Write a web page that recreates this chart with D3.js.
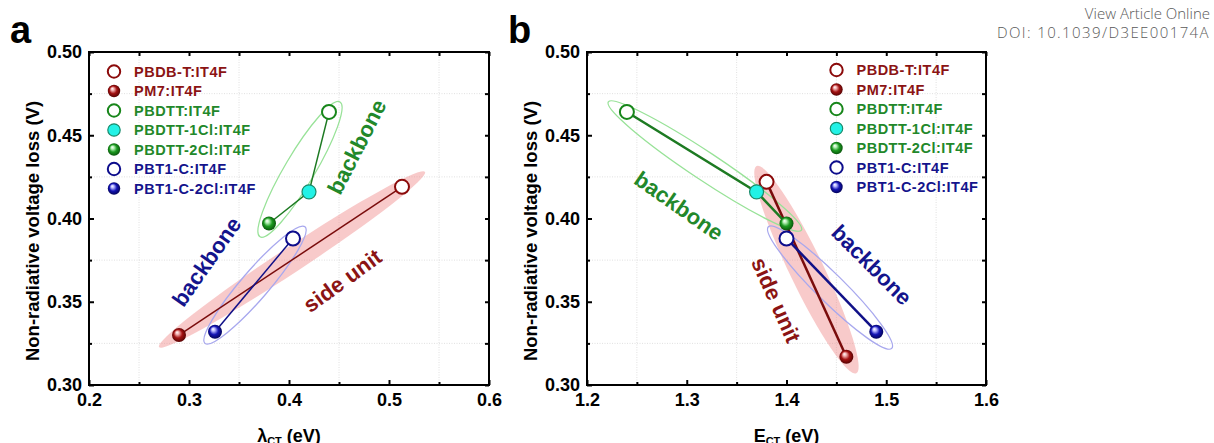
<!DOCTYPE html>
<html>
<head>
<meta charset="utf-8">
<script src="https://cdn.jsdelivr.net/npm/d3@7"></script>
<style>
  body { margin: 0; background: #fff; }
  svg { display: block; }
</style>
</head>
<body>
<div id="vis"></div>
<script>
// ---- data ----
var devices  = ["PBDB-T:IT4F", "PM7:IT4F", "PBDTT:IT4F", "PBDTT-1Cl:IT4F", "PBDTT-2Cl:IT4F", "PBT1-C:IT4F", "PBT1-C-2Cl:IT4F"];
var lambdaCT = [0.513, 0.290, 0.440, 0.420, 0.380, 0.404, 0.326];   // panel a, eV
var vlossA   = [0.419, 0.330, 0.464, 0.416, 0.397, 0.388, 0.332];   // panel a, V
var eCT      = [1.380, 1.460, 1.240, 1.370, 1.400, 1.400, 1.490];   // panel b, eV
var vlossB   = [0.422, 0.317, 0.464, 0.416, 0.397, 0.388, 0.332];   // panel b, V
var families = ["red", "red", "green", "cyan", "green", "blue", "blue"];
var filled   = [false, true, false, true, true, false, true];
var links    = [[1, 0], [4, 3, 2], [6, 5]];   // device indices joined by lines
var xTicksA  = [0.2, 0.3, 0.4, 0.5, 0.6];
var xTicksB  = [1.2, 1.3, 1.4, 1.5, 1.6];
var yTicks   = [0.30, 0.35, 0.40, 0.45, 0.50];

// ---- styling ----
var col = { red: "#8b0a0a", green: "#17861a", blue: "#0d0d8c", cyan: "#22f2e6" };
var textCol = { red: "#8b1414", green: "#22882a", blue: "#14148c", cyan: "#22882a" };
var lineCol = ["#7a0c0c", "#1d7a22", "#101088"];
var font = "'Liberation Sans', Arial, sans-serif";

var svg = d3.select("#vis").append("svg")
  .attr("width", 1214)
  .attr("height", 443);

// sphere gradients
var defs = svg.append("defs");
[["red", "#f2b0b0", "#a31212", "#4a0000"],
 ["green", "#b8f0b8", "#1c9a20", "#064a08"],
 ["blue", "#b8b8ff", "#1414b4", "#00004a"]].forEach(function (c) {
  var gr = defs.append("radialGradient").attr("id", "sph-" + c[0])
    .attr("cx", "50%").attr("cy", "50%").attr("r", "55%")
    .attr("fx", "35%").attr("fy", "30%");
  gr.append("stop").attr("offset", "0%").attr("stop-color", "#ffffff");
  gr.append("stop").attr("offset", "22%").attr("stop-color", c[1]);
  gr.append("stop").attr("offset", "55%").attr("stop-color", c[2]);
  gr.append("stop").attr("offset", "100%").attr("stop-color", c[3]);
});

function markerFill(i) {
  if (!filled[i]) return "#ffffff";
  if (families[i] == "cyan") return col.cyan;
  return "url(#sph-" + families[i] + ")";
}
function markerStroke(i) {
  if (families[i] == "cyan") return "#1a8a6a";
  if (!filled[i]) return col[families[i]];
  return "none";
}

function panel(o) {
  var x = d3.scaleLinear().domain(o.xdom).range([o.left, o.right]);
  var y = d3.scaleLinear().domain([0.30, 0.50]).range([o.bottom, o.top]);
  var g = svg.append("g");

  // light grid at the half steps
  var xMinor = d3.range(0, 4).map(function (k) { return o.xdom[0] + 0.05 + k * 0.1; });
  var yMinor = [0.325, 0.375, 0.425, 0.475];
  g.selectAll(".gx").data(xMinor).enter().append("line")
    .attr("x1", d => x(d)).attr("x2", d => x(d))
    .attr("y1", o.top).attr("y2", o.bottom)
    .attr("stroke", "#d8d8d8").attr("stroke-width", 0.8).attr("stroke-dasharray", "1,1.5");
  g.selectAll(".gy").data(yMinor).enter().append("line")
    .attr("y1", d => y(d)).attr("y2", d => y(d))
    .attr("x1", o.left).attr("x2", o.right)
    .attr("stroke", "#d8d8d8").attr("stroke-width", 0.8).attr("stroke-dasharray", "1,1.5");

  // highlight ellipses, given by two end points in data units
  o.ellipses.forEach(function (e) {
    var x1 = x(e.p1[0]), y1 = y(e.p1[1]), x2 = x(e.p2[0]), y2 = y(e.p2[1]);
    var cx = (x1 + x2) / 2, cy = (y1 + y2) / 2;
    var rx = Math.hypot(x2 - x1, y2 - y1) / 2;
    var ang = Math.atan2(y2 - y1, x2 - x1) * 180 / Math.PI;
    g.append("ellipse")
      .attr("cx", cx).attr("cy", cy).attr("rx", rx).attr("ry", e.hw)
      .attr("transform", "rotate(" + ang + "," + cx + "," + cy + ")")
      .attr("fill", e.fill || "none")
      .attr("fill-opacity", e.fill ? 0.45 : null)
      .attr("stroke", e.stroke || "none")
      .attr("stroke-width", 1.3);
  });

  // rotated annotations
  o.notes.forEach(function (n) {
    g.append("text")
      .attr("transform", "translate(" + x(n.at[0]) + "," + y(n.at[1]) + ") rotate(" + n.angle + ")")
      .attr("text-anchor", "middle").attr("dominant-baseline", "central")
      .attr("font-family", font).attr("font-weight", "bold").attr("font-size", 22)
      .attr("fill", n.color).text(n.text);
  });

  // connecting lines
  links.forEach(function (l, k) {
    g.append("path")
      .datum(l)
      .attr("d", d3.line().x(i => x(o.xs[i])).y(i => y(o.ys[i])))
      .attr("fill", "none").attr("stroke", lineCol[k]).attr("stroke-width", o.lw);
  });

  // markers
  g.selectAll(".pt").data(d3.range(devices.length)).enter().append("circle")
    .attr("cx", i => x(o.xs[i])).attr("cy", i => y(o.ys[i])).attr("r", 7)
    .attr("fill", markerFill).attr("stroke", markerStroke)
    .attr("stroke-width", i => filled[i] ? 1.2 : 2);

  // legend
  var lg = g.selectAll(".lg").data(devices).enter().append("g")
    .attr("transform", (d, i) => "translate(" + o.legX + "," + (o.legY + i * 19.5) + ")");
  lg.append("circle").attr("r", 6.2)
    .attr("fill", (d, i) => markerFill(i)).attr("stroke", (d, i) => markerStroke(i))
    .attr("stroke-width", (d, i) => filled[i] ? 1.2 : 2);
  lg.append("text").attr("x", 20).attr("dy", "0.36em")
    .attr("font-family", font).attr("font-weight", "bold").attr("font-size", 14.5)
    .attr("letter-spacing", 0.5)
    .attr("fill", (d, i) => textCol[families[i]]).text(d => d);

  // frame and ticks (all pointing in)
  g.append("rect").attr("x", o.left).attr("y", o.top)
    .attr("width", o.right - o.left).attr("height", o.bottom - o.top)
    .attr("fill", "none").attr("stroke", "#000").attr("stroke-width", 2);

  function styleAxis(a) {
    a.select(".domain").remove();
    a.selectAll("line").attr("stroke", "#000").attr("stroke-width", 2);
    a.selectAll("text").attr("font-family", font).attr("font-weight", "bold")
      .attr("font-size", 18).attr("fill", "#000");
  }
  var b = g.append("g").attr("transform", "translate(0," + o.bottom + ")")
    .call(d3.axisBottom(x).tickValues(o.xticks).tickFormat(d3.format(".1f")).tickSize(-5).tickSizeOuter(0).tickPadding(8));
  styleAxis(b);
  var bm = g.append("g").attr("transform", "translate(0," + o.bottom + ")")
    .call(d3.axisBottom(x).tickValues(xMinor).tickFormat("").tickSize(-3).tickSizeOuter(0));
  styleAxis(bm);
  var t = g.append("g").attr("transform", "translate(0," + o.top + ")")
    .call(d3.axisTop(x).tickValues(o.xticks.concat(xMinor)).tickFormat("").tickSize(-4).tickSizeOuter(0));
  styleAxis(t);
  var l = g.append("g").attr("transform", "translate(" + o.left + ",0)")
    .call(d3.axisLeft(y).tickValues(yTicks).tickFormat(d3.format(".2f")).tickSize(-5).tickSizeOuter(0).tickPadding(7));
  styleAxis(l);
  var lm = g.append("g").attr("transform", "translate(" + o.left + ",0)")
    .call(d3.axisLeft(y).tickValues(yMinor).tickFormat("").tickSize(-3).tickSizeOuter(0));
  styleAxis(lm);
  var r = g.append("g").attr("transform", "translate(" + o.right + ",0)")
    .call(d3.axisRight(y).tickValues(yTicks.concat(yMinor)).tickFormat("").tickSize(-4).tickSizeOuter(0));
  styleAxis(r);

  // axis titles
  g.append("text")
    .attr("transform", "translate(" + (o.left - 57) + ",231) rotate(-90)")
    .attr("text-anchor", "middle").attr("dominant-baseline", "central")
    .attr("font-family", font).attr("font-weight", "bold").attr("font-size", 18.5)
    .text("Non-radiative voltage loss (V)");
  var xt = g.append("text")
    .attr("x", (o.left + o.right) / 2).attr("y", 442)
    .attr("text-anchor", "middle")
    .attr("font-family", font).attr("font-weight", "bold").attr("font-size", 18);
  xt.append("tspan").text(o.xsym);
  xt.append("tspan").attr("font-size", 11).attr("dy", 3).text("CT");
  xt.append("tspan").attr("dy", -3).text(" (eV)");

  // panel letter
  g.append("text").attr("x", o.left - 79).attr("y", 43)
    .attr("font-family", font).attr("font-weight", "bold").attr("font-size", 38)
    .text(o.letter);
}

panel({
  letter: "a", xsym: "\u03bb", xdom: [0.2, 0.6], xticks: xTicksA,
  left: 89, right: 489, top: 52, bottom: 385,
  xs: lambdaCT, ys: vlossA, lw: 1.5,
  legX: 114, legY: 71.5,
  ellipses: [
    { p1: [0.270, 0.3228], p2: [0.536, 0.428], hw: 12.5, fill: "#f08a8a" },
    { p1: [0.371, 0.389], p2: [0.451, 0.470], hw: 15, stroke: "#98e298" },
    { p1: [0.316, 0.325], p2: [0.416, 0.395], hw: 14, stroke: "#a8a8ee" }
  ],
  notes: [
    { text: "backbone", at: [0.468, 0.443], angle: -63, color: "#22882a" },
    { text: "backbone", at: [0.3177, 0.374], angle: -55, color: "#14148c" },
    { text: "side unit", at: [0.4535, 0.3626], angle: -36, color: "#8b1414" }
  ]
});

panel({
  letter: "b", xsym: "E", xdom: [1.2, 1.6], xticks: xTicksB,
  left: 587, right: 986, top: 52, bottom: 385,
  xs: eCT, ys: vlossB, lw: 2.5,
  legX: 836.5, legY: 70,
  ellipses: [
    { p1: [1.370, 0.4315], p2: [1.470, 0.307], hw: 17, fill: "#f08a8a" },
    { p1: [1.2214, 0.470], p2: [1.415, 0.393], hw: 14, stroke: "#98e298" },
    { p1: [1.3818, 0.395], p2: [1.5055, 0.322], hw: 14, stroke: "#a8a8ee" }
  ],
  notes: [
    { text: "backbone", at: [1.292, 0.4075], angle: 35, color: "#22882a" },
    { text: "side unit", at: [1.3895, 0.351], angle: 66, color: "#8b1414" },
    { text: "backbone", at: [1.4854, 0.372], angle: 45, color: "#14148c" }
  ]
});

// journal header, top right
svg.append("text").attr("x", 1210).attr("y", 19).attr("text-anchor", "end")
  .attr("font-family", "'Open Sans', Lato, sans-serif").attr("font-weight", 300)
  .attr("font-size", 15).attr("fill", "#5a5a5a").text("View Article Online");
svg.append("text").attr("x", 1210).attr("y", 38).attr("text-anchor", "end")
  .attr("font-family", "'Open Sans', Lato, sans-serif").attr("font-weight", 300)
  .attr("font-size", 15).attr("letter-spacing", 1.4).attr("fill", "#5a5a5a").text("DOI: 10.1039/D3EE00174A");
</script>
</body>
</html>
